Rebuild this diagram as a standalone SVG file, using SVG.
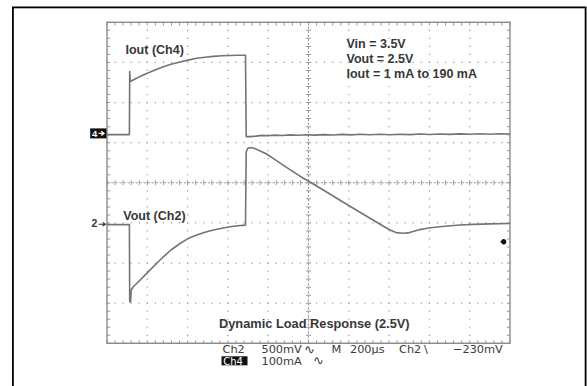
<svg xmlns="http://www.w3.org/2000/svg" width="587" height="386" viewBox="0 0 587 386">
<style>
.frame{fill:none;stroke:#000;stroke-width:1.8}
.grat{fill:none;stroke:#8a8a8a;stroke-width:1.4}
.hdot{stroke:#9a9a9a;stroke-width:1.2;stroke-dasharray:1.2 6.86}
.vdot{stroke:#9a9a9a;stroke-width:1.2;stroke-dasharray:1.2 6.825}
.htick{stroke:#9a9a9a;stroke-dasharray:1 7.06}
.vtick{stroke:#9a9a9a;stroke-dasharray:1 7.025}
.trace{fill:none;stroke:#747474;stroke-width:1.6;stroke-linejoin:round}
.lbl{font-family:"Liberation Sans",Arial,sans-serif;font-weight:bold;font-size:12.5px;fill:#383838}
.stat{font-family:"DejaVu Sans",sans-serif;font-size:11.3px;fill:#3a3a3a}
.sym{font-family:"DejaVu Sans",sans-serif;font-size:13px;fill:#3a3a3a}
</style>
<rect class="frame" x="12.9" y="7.4" width="572.7" height="400"/>
<g id="graticule">
<g id="grid-h">
<line class="hdot" x1="106.4" y1="62.4" x2="510.6" y2="62.4"/>
<line class="hdot" x1="106.4" y1="102.55" x2="510.6" y2="102.55"/>
<line class="hdot" x1="106.4" y1="142.7" x2="510.6" y2="142.7"/>
<line class="hdot" x1="106.4" y1="222.9" x2="510.6" y2="222.9"/>
<line class="hdot" x1="106.4" y1="263.05" x2="510.6" y2="263.05"/>
<line class="hdot" x1="106.4" y1="303.2" x2="510.6" y2="303.2"/>
</g>
<g id="grid-v">
<line class="vdot" x1="147.3" y1="21.7" x2="147.3" y2="343.9"/>
<line class="vdot" x1="187.6" y1="21.7" x2="187.6" y2="343.9"/>
<line class="vdot" x1="227.9" y1="21.7" x2="227.9" y2="343.9"/>
<line class="vdot" x1="268.2" y1="21.7" x2="268.2" y2="343.9"/>
<line class="vdot" x1="348.8" y1="21.7" x2="348.8" y2="343.9"/>
<line class="vdot" x1="389.1" y1="21.7" x2="389.1" y2="343.9"/>
<line class="vdot" x1="429.4" y1="21.7" x2="429.4" y2="343.9"/>
<line class="vdot" x1="469.7" y1="21.7" x2="469.7" y2="343.9"/>
</g>
<g id="center-axes">
<line x1="106.4" y1="182.8" x2="510.6" y2="182.8" stroke="#9a9a9a" stroke-width="1.1" stroke-dasharray="2.4 1.63" stroke-dashoffset="-0.8"/>
<line class="htick" x1="106.5" y1="182.8" x2="510.5" y2="182.8" stroke-width="5"/>
<line x1="308.5" y1="21.7" x2="308.5" y2="343.9" stroke="#9a9a9a" stroke-width="1.1" stroke-dasharray="2.4 1.61" stroke-dashoffset="-0.8"/>
<line class="vtick" x1="308.5" y1="21.8" x2="308.5" y2="343.8" stroke-width="5"/>
</g>
<g id="border-ticks">
<line class="htick" x1="106.5" y1="23.9" x2="510.5" y2="23.9" stroke-width="3"/>
<line class="htick" x1="106.5" y1="341.7" x2="510.5" y2="341.7" stroke-width="3"/>
<line class="vtick" x1="108.6" y1="21.8" x2="108.6" y2="343.8" stroke-width="3"/>
<line class="vtick" x1="508.4" y1="21.8" x2="508.4" y2="343.8" stroke-width="3"/>
</g>
<rect class="grat" x="107" y="22.3" width="403" height="321"/>
</g>
<g id="traces">
<polyline id="iout-trace" class="trace" points="107,134.6 129.4,134.6 129.7,71.5 130.3,81.5 135,79 140,76.6 146.7,73.6 155,70.1 163.3,66.8 171,64.3 180,62 188,60.1 196.7,58.3 205,57.2 213.3,56.4 222,55.8 230,55.5 238,55.3 245.5,55.3 246.2,136.6 250,136.6 256,136.1 262,135.4 268,135.7 275,135.1 282,135.5 290,134.9 298,135.3 306,134.7 315,135.1 324,134.6 333,135 342,134.4 351,134.9 360,134.3 370,134.8 380,134.2 390,134.7 400,134.2 410,134.6 420,134 430,134.5 440,134 450,134.4 460,133.9 470,134.3 480,133.8 490,134.2 500,133.8 510,134"/>
<polyline id="vout-trace" class="trace" points="107,224.6 129.4,224.6 129.7,301.5 130.6,302 131.2,290 133.3,286.8 140,280.2 146.7,273.4 155,265 163.3,256.8 171,250 180,243.5 188,238.6 196.7,235 205,232.2 213.3,230 222,228.2 230,226.8 238,225.8 245.5,225.1 246.2,152 247.6,148.6 250.5,147.5 254,148.2 258,150 266.7,154 275,159.6 285,166.3 300,176.2 312,183.3 323.3,190 340,200.2 355,209.2 370,218.2 383,226 390,230 396,232.6 403,233.3 408,232.9 413,231.5 420,229.6 427,228.3 435,227.2 445,226.2 460,225 473,224.4 490,223.9 510,223.5"/>
</g>
<g id="markers">
<g id="ch4-marker">
<rect x="90.2" y="128.4" width="16.3" height="10" fill="#111"/>
<text x="92" y="137" font-family="Liberation Sans,Arial,sans-serif" font-weight="bold" font-size="9.5" fill="#fff">4</text>
<path d="M98.5,133.4 H103.5 M101.2,131.2 L104,133.4 L101.2,135.6" stroke="#fff" stroke-width="1.3" fill="none"/>
</g>
<g id="ch2-marker">
<text x="91.5" y="227.2" font-family="Liberation Sans,Arial,sans-serif" font-weight="bold" font-size="10.5" fill="#333">2</text>
<path d="M98.5,224.2 H105 M102.5,222.4 L105.5,224.2 L102.5,226" stroke="#333" stroke-width="1.1" fill="none"/>
</g>
<g id="trigger-marker">
<path d="M500.2,241.7 L502.8,239 A2.8,2.8 0 1 1 502.8,244.4 Z" fill="#111"/>
</g>
</g>
<g id="labels">
<text class="lbl" x="125.5" y="53.5">Iout (Ch4)</text>
<text class="lbl" x="346.5" y="47.6">Vin = 3.5V</text>
<text class="lbl" x="346.5" y="62.6">Vout = 2.5V</text>
<text class="lbl" x="346.5" y="78">Iout = 1 mA to 190 mA</text>
<text class="lbl" x="123.3" y="219.6">Vout (Ch2)</text>
<text class="lbl" x="219" y="327.5" style="font-size:12.8px">Dynamic Load Response (2.5V)</text>
</g>
<g id="status">
<text class="stat" x="222.5" y="353.2">Ch2</text>
<text class="stat" x="261.5" y="353.2">500mV</text>
<text class="sym" x="304" y="353.6">∿</text>
<text class="stat" x="331.5" y="353.2">M</text>
<text class="stat" x="350" y="353.2">200µs</text>
<text class="stat" x="399" y="353.2">Ch2</text>
<text class="stat" x="424" y="353.2">\</text>
<text class="stat" x="453" y="353.2">−230mV</text>
<rect x="221.5" y="356.3" width="26" height="9" fill="#111"/>
<text class="stat" x="223.3" y="364.6" style="fill:#fff;font-size:10px">Ch4</text>
<text class="stat" x="261.5" y="364.8">100mA</text>
<text class="sym" x="313" y="365.2">∿</text>
</g>
</svg>
